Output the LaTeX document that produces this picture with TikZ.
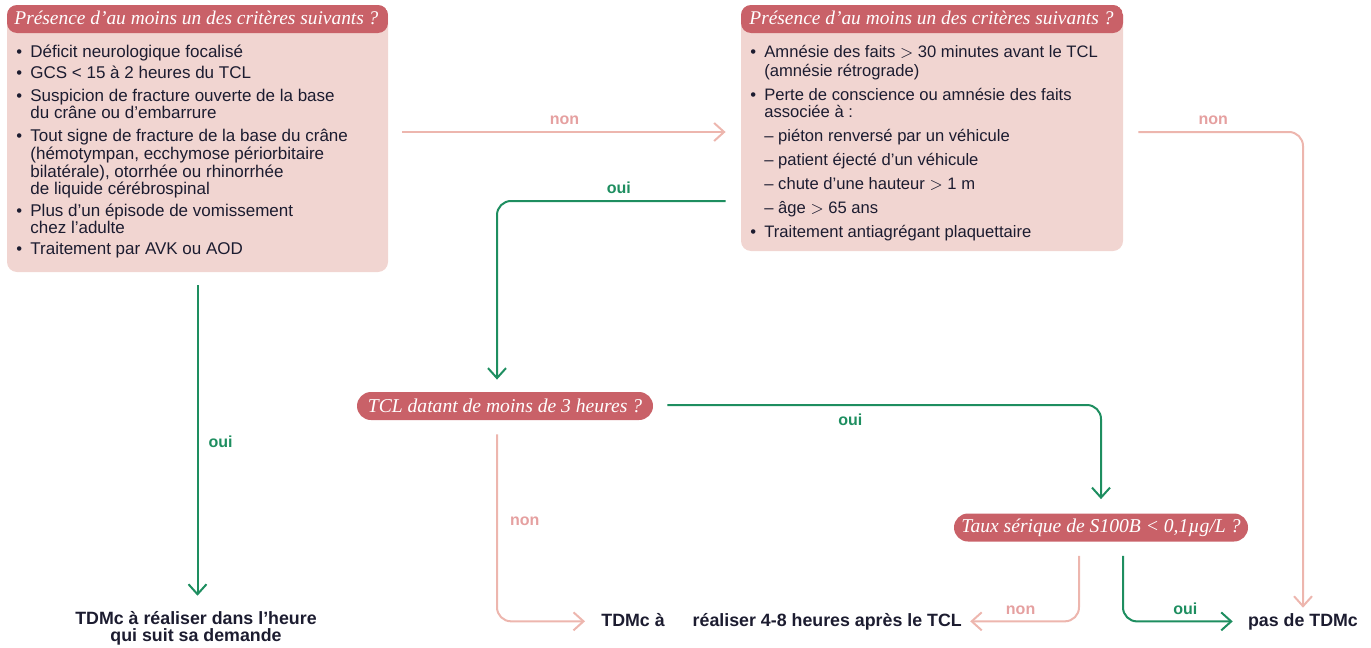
\documentclass[tikz,border=0pt]{standalone}
\usepackage{fontspec}
\setmainfont{Liberation Sans}
\newfontfamily\headfont{Liberation Serif}
\usepackage{tikz}
\usetikzlibrary{arrows.meta}
\usetikzlibrary{positioning}
\usepackage{color}
\definecolor{redhead}{RGB}{201, 97, 104}
\definecolor{pinkbody}{RGB}{241, 213, 209}
\definecolor{ouigreen}{RGB}{30, 142, 96}
\definecolor{nonpink}{RGB}{237, 182, 174}
\definecolor{nonlabel}{RGB}{229, 160, 160}
\definecolor{inkblue}{RGB}{28, 28, 48}

\tikzset{
  critbox/.style={fill=pinkbody, rounded corners=5pt, inner sep=0pt,
    path picture={\fill[redhead] (path picture bounding box.north west)
      rectangle ([yshift=-14pt]path picture bounding box.north east);}},
  headtxt/.style={anchor=base west, inner sep=0pt, text=white,
    font=\headfont\itshape\fontsize{9.7}{11}\selectfont},
  itemtxt/.style={anchor=base west, inner sep=0pt, text=inkblue,
    font=\fontsize{8.3}{9}\selectfont},
  question/.style={fill=redhead, rounded corners=7pt, inner sep=0pt, minimum height=14pt,
    text=white, font=\headfont\itshape\fontsize{9.8}{11}\selectfont},
  result/.style={inner sep=0pt, text=inkblue, font=\bfseries\fontsize{8.9}{8.5}\selectfont},
  oui/.style={draw=ouigreen, line width=1pt, rounded corners=7pt,
    -{Straight Barb[length=5pt,width=9pt]}},
  non/.style={draw=nonpink, line width=1pt, rounded corners=7pt,
    -{Straight Barb[length=5pt,width=9pt]}},
  ouilbl/.style={inner sep=0pt, text=ouigreen, font=\bfseries\fontsize{8}{9}\selectfont},
  nonlbl/.style={inner sep=0pt, text=nonlabel, font=\bfseries\fontsize{8}{9}\selectfont},
}

\begin{document}
\begin{tikzpicture}[x=0.5pt, y=-0.5pt]
  \useasboundingbox (0,0) rectangle (1371,648);

  % criteria boxes
  \node[critbox, minimum width=190.5pt, minimum height=133.5pt] (crit1) at (197.5,138.5) {};
  \node[critbox, minimum width=191pt,   minimum height=123pt]   (crit2) at (932,128)     {};
  \node[headtxt] (head1) at (14,25)  {Présence d’au moins un des critères suivants ?};
  \node[headtxt] (head2) at (749,25) {Présence d’au moins un des critères suivants ?};

  \foreach \y/\b/\txt [count=\i] in {
      57/•/{Déficit neurologique focalisé},
      78/•/{GCS < 15 à 2 heures du TCL},
      101/•/{Suspicion de fracture ouverte de la base},
      118/{}/{du crâne ou d’embarrure},
      141/•/{Tout signe de fracture de la base du crâne},
      159/{}/{(hémotympan, ecchymose périorbitaire},
      177/{}/{bilatérale), otorrhée ou rhinorrhée},
      194/{}/{de liquide cérébrospinal},
      216/•/{Plus d’un épisode de vomissement},
      233/{}/{chez l’adulte},
      254/•/{Traitement par AVK ou AOD}}
  {
    \node[itemtxt] (bulA\i) at (16,\y) {\b};
    \node[itemtxt, font=\fontsize{8.5}{9}\selectfont] (lineA\i) at (30,\y) {\txt};
  }

  \foreach \y/\b/\txt [count=\i] in {
      57/•/{Amnésie des faits $>$ 30 minutes avant le TCL},
      76/{}/{(amnésie rétrograde)},
      100/•/{Perte de conscience ou amnésie des faits},
      117/{}/{associée à :},
      141/{}/{– piéton renversé par un véhicule},
      165/{}/{– patient éjecté d’un véhicule},
      189/{}/{– chute d’une hauteur $>$ 1 m},
      213/{}/{– âge $>$ 65 ans},
      237/•/{Traitement antiagrégant plaquettaire}}
  {
    \node[itemtxt] (bulB\i) at (750,\y) {\b};
    \node[itemtxt] (lineB\i) at (764,\y) {\txt};
  }

  % questions
  \node[question, minimum width=148pt] (q1) at (505,406)    {TCL datant de moins de 3 heures ?};
  \node[question, minimum width=147pt] (q2) at (1101,527.5) {Taux sérique de S100B < 0,1µg/L ?};

  % outcomes
  \node[result, align=center]     (r1) at (196,628) {TDMc à réaliser dans l’heure\\qui suit sa demande};
  \node[result, anchor=base west] (r2) at (601,626) {TDMc à\hspace{14pt}réaliser 4-8 heures après le TCL};
  \node[result, anchor=base]      (r3) at (1303,626) {pas de TDMc};

  % connectors
  \draw[oui, shorten <=6.5pt, shorten >=7.5pt] (crit1.south) -- (crit1.south |- r1.north)
    node[ouilbl, midway, right=5pt] (o1) {oui};
  \draw[non, shorten <=7pt, shorten >=7.5pt] ([yshift=3.25pt]crit1.east) -- ([yshift=3.25pt]crit1.east -| crit2.west)
    node[nonlbl, midway, above=3pt] (n1) {non};
  \draw[oui, shorten <=7.5pt, shorten >=6pt] ([yshift=-36.5pt]crit2.west) -| ([xshift=-4pt]q1.north)
    node[ouilbl, pos=0.25, above=3pt] (o2) {oui};
  \draw[non, shorten <=7.5pt, shorten >=2.5pt] ([yshift=-2pt]crit2.east) -| (r3.north)
    node[nonlbl, pos=0.25, above=3pt] (n2) {non};
  \draw[oui, shorten <=7pt, shorten >=7pt] ([yshift=0.5pt]q1.east) -| (q2.north)
    node[ouilbl, pos=0.22, below=4pt] (o3) {oui};
  \draw[non, shorten <=7pt, shorten >=8pt] ([xshift=-4pt]q1.south) |- (r2.west)
    node[nonlbl, pos=0.25, right=6pt] (n3) {non};
  \draw[non, shorten <=7pt, shorten >=4pt] ([xshift=-11pt]q2.south) |- (r2.east)
    node[nonlbl, pos=0.75, above=3pt] (n4) {non};
  \draw[oui, shorten <=7pt, shorten >=7.5pt] ([xshift=11pt]q2.south) |- (r3.west)
    node[ouilbl, pos=0.75, above=3pt] (o4) {oui};
\end{tikzpicture}
\end{document}
